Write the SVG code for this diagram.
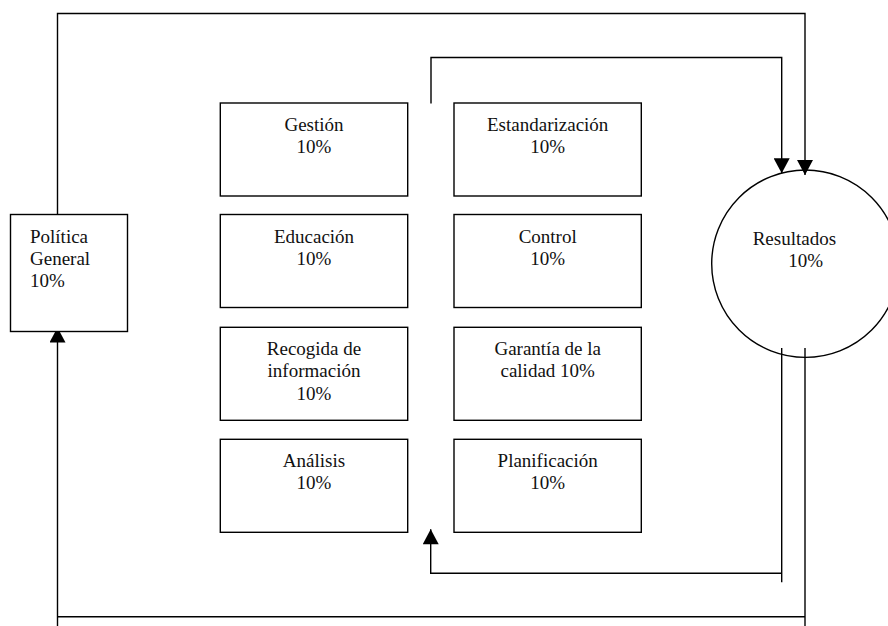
<svg xmlns="http://www.w3.org/2000/svg" width="888" height="626" viewBox="0 0 888 626">
<style>
.box{fill:#fff;stroke:#000;stroke-width:1.4}
.ln{fill:none;stroke:#000;stroke-width:1.4}
text{font-family:"Liberation Serif","Times New Roman",serif;font-size:19px;fill:#111}
.c{text-anchor:middle}
</style>
<defs>
<marker id="ah" markerUnits="userSpaceOnUse" markerWidth="16" markerHeight="16" viewBox="0 0 14 15" refX="14" refY="7.5" orient="auto">
<path d="M0,0 L14,7.5 L0,15 z" fill="#000"/>
</marker>
</defs>
<rect width="888" height="626" fill="#fff"/>
<g id="connectors">
<path class="ln" d="M57.5,223 V13.5 H805 V175" marker-end="url(#ah)"/>
<path class="ln" d="M431,103.5 V57.5 H781.7 V173.3" marker-end="url(#ah)"/>
<path class="ln" d="M781.7,348 V582.3"/>
<path class="ln" d="M781.7,573.3 H430.7 V529.3" marker-end="url(#ah)"/>
<path class="ln" d="M805,348 V626"/>
<path class="ln" d="M805,616.7 H57.5"/>
<path class="ln" d="M57.5,626 V327.5" marker-end="url(#ah)"/>
</g>
<g id="politica">
<rect class="box" x="10.5" y="214.5" width="117" height="117"/>
<text x="30" y="242.7">Política</text>
<text x="30" y="265">General</text>
<text x="30" y="287.3">10%</text>
</g>
<g id="gestion">
<rect class="box" x="220.3" y="103" width="187.4" height="93"/>
<text class="c" x="314" y="130.7">Gestión</text>
<text class="c" x="314" y="152.7">10%</text>
</g>
<g id="educacion">
<rect class="box" x="220.3" y="214.5" width="187.4" height="93"/>
<text class="c" x="314" y="242.7">Educación</text>
<text class="c" x="314" y="265">10%</text>
</g>
<g id="recogida">
<rect class="box" x="220.3" y="327.3" width="187.4" height="93"/>
<text class="c" x="314" y="355">Recogida de</text>
<text class="c" x="314" y="377.3">información</text>
<text class="c" x="314" y="399.7">10%</text>
</g>
<g id="analisis">
<rect class="box" x="220.3" y="439.3" width="187.4" height="93"/>
<text class="c" x="314" y="466.7">Análisis</text>
<text class="c" x="314" y="489">10%</text>
</g>
<g id="estandarizacion">
<rect class="box" x="454" y="103" width="187.3" height="93"/>
<text class="c" x="547.7" y="130.7">Estandarización</text>
<text class="c" x="547.7" y="152.7">10%</text>
</g>
<g id="control">
<rect class="box" x="454" y="214.5" width="187.3" height="93"/>
<text class="c" x="547.7" y="242.7">Control</text>
<text class="c" x="547.7" y="265">10%</text>
</g>
<g id="garantia">
<rect class="box" x="454" y="327.3" width="187.3" height="93"/>
<text class="c" x="547.7" y="355">Garantía de la</text>
<text class="c" x="547.7" y="377.3">calidad 10%</text>
</g>
<g id="planificacion">
<rect class="box" x="454" y="439.3" width="187.3" height="93"/>
<text class="c" x="547.7" y="466.7">Planificación</text>
<text class="c" x="547.7" y="489">10%</text>
</g>
<g id="resultados">
<circle cx="805.4" cy="263.7" r="93.7" fill="none" stroke="#000" stroke-width="1.4"/>
<text x="752.7" y="245">Resultados</text>
<text x="788.3" y="266.7">10%</text>
</g>
</svg>
